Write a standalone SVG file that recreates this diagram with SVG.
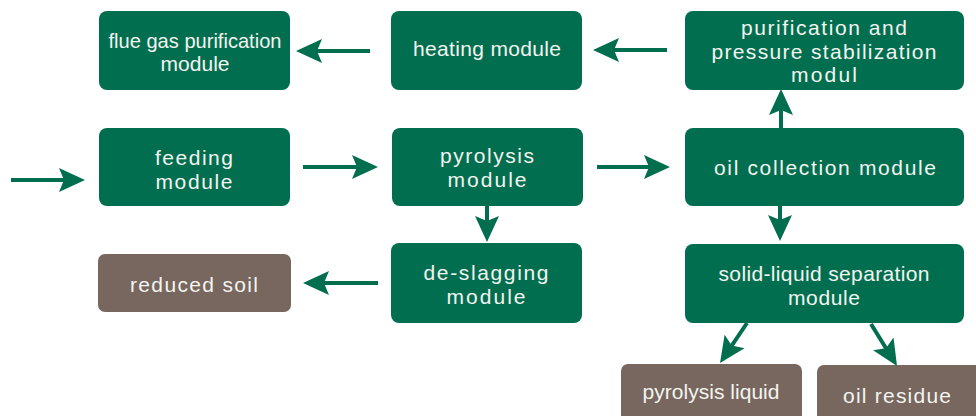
<svg xmlns="http://www.w3.org/2000/svg" width="976" height="416" viewBox="0 0 976 416">
<style>
.g{fill:#016f4f}
.b{fill:#77675f}
text{font-family:"Liberation Sans",Arial,sans-serif;font-size:21px;fill:#f4f4f0;text-anchor:middle}
.c{stroke:#016f4f;stroke-width:4;fill:none;marker-end:url(#ah)}
</style>
<defs>
<marker id="ah" markerWidth="28" markerHeight="26" refX="18" refY="13" orient="auto" markerUnits="userSpaceOnUse">
<path d="M0,1 L26,13 L0,25 L5,13 Z" fill="#016f4f"/>
</marker>
</defs>
<rect width="976" height="416" fill="#ffffff"/>
<g id="flue"><rect class="g" x="99" y="11" width="191" height="79" rx="8"/><text><tspan x="195" y="47.5" textLength="173" lengthAdjust="spacingAndGlyphs">flue gas purification</tspan><tspan x="195" y="71" textLength="69">module</tspan></text></g>
<g id="heating"><rect class="g" x="391" y="11" width="191" height="79" rx="8"/><text x="487" y="56" textLength="148">heating module</text></g>
<g id="purif"><rect class="g" x="685" y="11" width="279" height="79" rx="8"/><text><tspan x="824" y="35" textLength="166">purification and</tspan><tspan x="824" y="58.5" textLength="225">pressure stabilization</tspan><tspan x="824" y="82" textLength="66">modul</tspan></text></g>
<g id="feeding"><rect class="g" x="99" y="128" width="191" height="78" rx="8"/><text><tspan x="194" y="165" textLength="78">feeding</tspan><tspan x="194" y="188.5" textLength="77">module</tspan></text></g>
<g id="pyrolysis"><rect class="g" x="392" y="128" width="191" height="78" rx="8"/><text><tspan x="487" y="163" textLength="94">pyrolysis</tspan><tspan x="487" y="186.5" textLength="79">module</tspan></text></g>
<g id="oil"><rect class="g" x="685" y="128" width="279" height="78" rx="8"/><text x="825" y="175" textLength="222">oil collection module</text></g>
<g id="deslag"><rect class="g" x="391" y="243" width="191" height="80" rx="8"/><text><tspan x="486" y="280" textLength="125">de-slagging</tspan><tspan x="486" y="303.5" textLength="79">module</tspan></text></g>
<g id="soil"><rect class="b" x="98" y="254" width="193" height="58" rx="7"/><text x="194" y="292" textLength="128">reduced soil</text></g>
<g id="solid"><rect class="g" x="685" y="244" width="279" height="79" rx="8"/><text><tspan x="824" y="281" textLength="211">solid-liquid separation</tspan><tspan x="824" y="304.5" textLength="72">module</tspan></text></g>
<g id="liquid"><rect class="b" x="621" y="364" width="181" height="60" rx="7"/><text x="711" y="399" textLength="137">pyrolysis liquid</text></g>
<g id="residue"><rect class="b" x="817" y="365" width="165" height="60" rx="7"/><text x="897" y="403" textLength="108">oil residue</text></g>
<g id="connectors">
<line class="c" x1="11" y1="180" x2="77" y2="180"/>
<line class="c" x1="303" y1="167" x2="370" y2="167"/>
<line class="c" x1="597" y1="167" x2="662" y2="167"/>
<line class="c" x1="667" y1="50" x2="601" y2="50"/>
<line class="c" x1="370" y1="51" x2="304" y2="51"/>
<line class="c" x1="781" y1="128" x2="781" y2="97"/>
<line class="c" x1="780" y1="206" x2="780" y2="233"/>
<line class="c" x1="487" y1="206" x2="487" y2="234"/>
<line class="c" x1="378" y1="283" x2="311" y2="283"/>
<line class="c" x1="747" y1="323" x2="724.5" y2="356.4"/>
<line class="c" x1="871" y1="324" x2="892.8" y2="359.2"/>
</g>
</svg>
